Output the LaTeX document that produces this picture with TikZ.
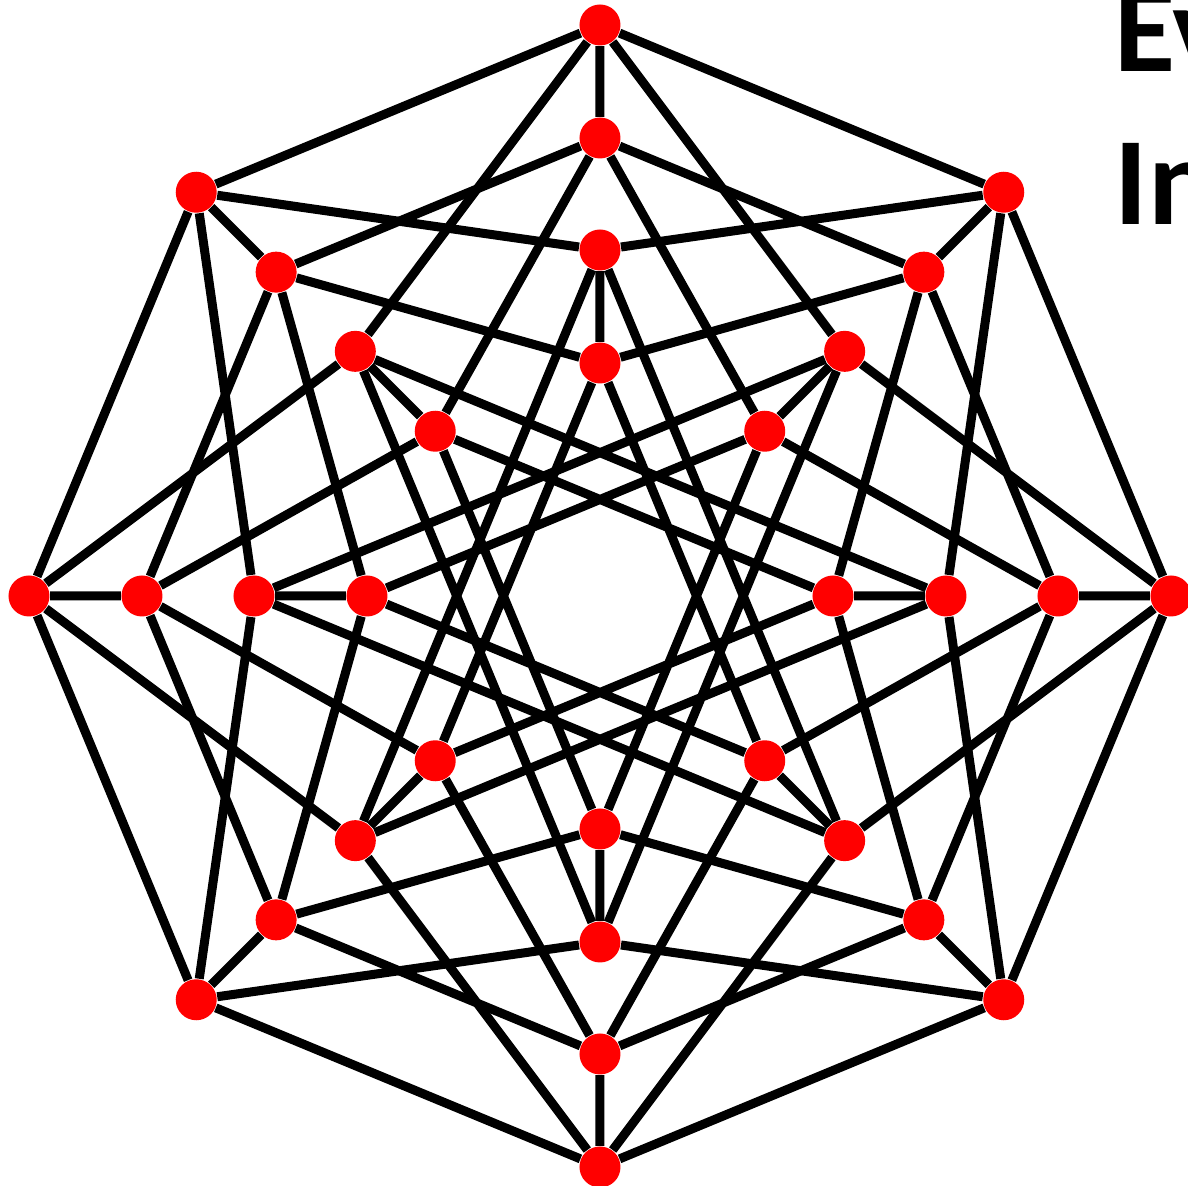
\documentclass[tikz,border=0pt]{standalone}
\usepackage{fontspec}
\newfontfamily\titlefont{Carlito}

\begin{document}
\begin{tikzpicture}[
  vtx/.style={circle, fill=red, inner sep=0pt, minimum size=0.41cm},
  link/.style={line width=0.09cm, black},
  title/.style={anchor=base west, inner sep=0pt, font=\titlefont\bfseries\fontsize{35.6pt}{43pt}\selectfont}
]
  \useasboundingbox (-6.00,-5.90) rectangle (5.88,5.96);

  % Outer octagon
  \node[vtx] (A0) at (90:5.71) {};
  \node[vtx] (A1) at (45:5.71) {};
  \node[vtx] (A2) at (0:5.71) {};
  \node[vtx] (A3) at (-45:5.71) {};
  \node[vtx] (A4) at (-90:5.71) {};
  \node[vtx] (A5) at (-135:5.71) {};
  \node[vtx] (A6) at (180:5.71) {};
  \node[vtx] (A7) at (135:5.71) {};

  % Second ring
  \node[vtx] (B0) at (90:4.58) {};
  \node[vtx] (B1) at (45:4.58) {};
  \node[vtx] (B2) at (0:4.58) {};
  \node[vtx] (B3) at (-45:4.58) {};
  \node[vtx] (B4) at (-90:4.58) {};
  \node[vtx] (B5) at (-135:4.58) {};
  \node[vtx] (B6) at (180:4.58) {};
  \node[vtx] (B7) at (135:4.58) {};

  % Third ring
  \node[vtx] (C0) at (90:3.46) {};
  \node[vtx] (C1) at (45:3.46) {};
  \node[vtx] (C2) at (0:3.46) {};
  \node[vtx] (C3) at (-45:3.46) {};
  \node[vtx] (C4) at (-90:3.46) {};
  \node[vtx] (C5) at (-135:3.46) {};
  \node[vtx] (C6) at (180:3.46) {};
  \node[vtx] (C7) at (135:3.46) {};

  % Inner ring
  \node[vtx] (D0) at (90:2.33) {};
  \node[vtx] (D1) at (45:2.33) {};
  \node[vtx] (D2) at (0:2.33) {};
  \node[vtx] (D3) at (-45:2.33) {};
  \node[vtx] (D4) at (-90:2.33) {};
  \node[vtx] (D5) at (-135:2.33) {};
  \node[vtx] (D6) at (180:2.33) {};
  \node[vtx] (D7) at (135:2.33) {};

  % Rings and stars
  \draw[link] (A0) -- (A1) -- (A2) -- (A3) -- (A4) -- (A5) -- (A6) -- (A7) -- (A0);
  \draw[link] (B0) -- (B1) -- (B2) -- (B3) -- (B4) -- (B5) -- (B6) -- (B7) -- (B0);
  \draw[link] (C0) -- (C3) -- (C6) -- (C1) -- (C4) -- (C7) -- (C2) -- (C5) -- (C0);
  \draw[link] (D0) -- (D3) -- (D6) -- (D1) -- (D4) -- (D7) -- (D2) -- (D5) -- (D0);

  % Spokes
  \draw[link] (A0) -- (B0) (A1) -- (B1) (A2) -- (B2) (A3) -- (B3)
              (A4) -- (B4) (A5) -- (B5) (A6) -- (B6) (A7) -- (B7);
  \draw[link] (C0) -- (D0) (C1) -- (D1) (C2) -- (D2) (C3) -- (D3)
              (C4) -- (D4) (C5) -- (D5) (C6) -- (D6) (C7) -- (D7);

  % Zigzags between rings
  \draw[link] (A0) -- (C1) -- (A2) -- (C3) -- (A4) -- (C5) -- (A6) -- (C7) -- (A0);
  \draw[link] (A1) -- (C2) -- (A3) -- (C4) -- (A5) -- (C6) -- (A7) -- (C0) -- (A1);
  \draw[link] (B0) -- (D1) -- (B2) -- (D3) -- (B4) -- (D5) -- (B6) -- (D7) -- (B0);
  \draw[link] (B1) -- (D2) -- (B3) -- (D4) -- (B5) -- (D6) -- (B7) -- (D0) -- (B1);

  % Title, cut by the frame
  \node[title] (ev) at (5.14,5.24) {Ev};
  \node[title] (in) at (5.14,3.71) {In};
\end{tikzpicture}
\end{document}
